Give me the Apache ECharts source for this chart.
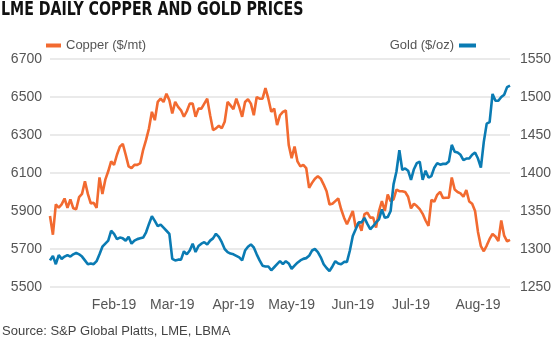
<!DOCTYPE html>
<html>
<head>
<meta charset="utf-8">
<script src="https://cdn.jsdelivr.net/npm/echarts@6/dist/echarts.min.js"></script>
<style>
  html, body { margin: 0; padding: 0; background: #fff; }
  #chart { width: 560px; height: 348px; }
</style>
</head>
<body>
<div id="chart"></div>
<script>
// Trading days (2019), Jan 2 – Aug 16
const dates = [
  '2019-01-02','2019-01-03','2019-01-04','2019-01-07','2019-01-08','2019-01-09','2019-01-10','2019-01-11','2019-01-14','2019-01-15','2019-01-16','2019-01-17','2019-01-18','2019-01-21','2019-01-22','2019-01-23','2019-01-24','2019-01-25','2019-01-28','2019-01-29','2019-01-30','2019-01-31',
  '2019-02-01','2019-02-04','2019-02-05','2019-02-06','2019-02-07','2019-02-08','2019-02-11','2019-02-12','2019-02-13','2019-02-14','2019-02-15','2019-02-18','2019-02-19','2019-02-20','2019-02-21','2019-02-22','2019-02-25','2019-02-26','2019-02-27','2019-02-28',
  '2019-03-01','2019-03-04','2019-03-05','2019-03-06','2019-03-07','2019-03-08','2019-03-11','2019-03-12','2019-03-13','2019-03-14','2019-03-15','2019-03-18','2019-03-19','2019-03-20','2019-03-21','2019-03-22','2019-03-25','2019-03-26','2019-03-27','2019-03-28','2019-03-29',
  '2019-04-01','2019-04-02','2019-04-03','2019-04-04','2019-04-05','2019-04-08','2019-04-09','2019-04-10','2019-04-11','2019-04-12','2019-04-15','2019-04-16','2019-04-17','2019-04-18','2019-04-23','2019-04-24','2019-04-25','2019-04-26','2019-04-29','2019-04-30',
  '2019-05-01','2019-05-02','2019-05-03','2019-05-07','2019-05-08','2019-05-09','2019-05-10','2019-05-13','2019-05-14','2019-05-15','2019-05-16','2019-05-17','2019-05-20','2019-05-21','2019-05-22','2019-05-23','2019-05-24','2019-05-28','2019-05-29','2019-05-30','2019-05-31',
  '2019-06-03','2019-06-04','2019-06-05','2019-06-06','2019-06-07','2019-06-10','2019-06-11','2019-06-12','2019-06-13','2019-06-14','2019-06-17','2019-06-18','2019-06-19','2019-06-20','2019-06-21','2019-06-24','2019-06-25','2019-06-26','2019-06-27','2019-06-28',
  '2019-07-01','2019-07-02','2019-07-03','2019-07-04','2019-07-05','2019-07-08','2019-07-09','2019-07-10','2019-07-11','2019-07-12','2019-07-15','2019-07-16','2019-07-17','2019-07-18','2019-07-19','2019-07-22','2019-07-23','2019-07-24','2019-07-25','2019-07-26','2019-07-29','2019-07-30','2019-07-31',
  '2019-08-01','2019-08-02','2019-08-05','2019-08-06','2019-08-07','2019-08-08','2019-08-09','2019-08-12','2019-08-13','2019-08-14','2019-08-15','2019-08-16'
];

// LME copper ($/mt)
const copper = [
  5874,5775,5935,5917,5935,5966,5917,5961,5914,5909,5973,5990,6057,5990,5940,5943,5917,6077,5990,6065,6109,6161,
  6143,6196,6239,6253,6196,6135,6126,6143,6143,6152,6222,6274,6335,6422,6378,6474,6491,6474,6517,6483,
  6413,6474,6448,6430,6396,6425,6465,6465,6396,6439,6439,6465,6491,6404,6326,6335,6349,6335,6370,6474,6456,
  6436,6491,6448,6396,6474,6488,6465,6404,6500,6491,6491,6547,6491,6422,6439,6352,6404,6422,6430,6248,
  6178,6239,6161,6135,6143,6126,6022,6048,6070,6083,6070,6039,6004,5935,5938,5952,5966,5909,5865,5830,5865,
  5900,5813,5839,5796,5883,5891,5865,5865,5813,5900,5952,5900,5987,5952,5961,6013,6004,6004,6000,5975,
  5914,5938,5926,5910,5885,5850,5822,5958,5949,5985,6001,5968,5970,5970,6076,6013,6000,5993,5975,6010,5950,5938,5900,
  5790,5715,5688,5718,5753,5779,5766,5742,5850,5770,5740,5748
];

// LBMA gold ($/oz)
const gold = [
  1285,1291,1280,1292,1287,1290,1292,1290,1293,1295,1293,1290,1285,1280,1281,1280,1284,1293,1303,1307,1311,1324,
  1320,1313,1315,1314,1311,1316,1307,1311,1313,1314,1315,1322,1333,1343,1337,1330,1332,1328,1324,1320,
  1287,1285,1286,1286,1297,1293,1298,1307,1296,1304,1307,1309,1306,1311,1314,1320,1316,1309,1300,1296,1294,
  1293,1291,1289,1285,1298,1303,1306,1302,1293,1285,1278,1277,1277,1272,1276,1280,1284,1280,1284,1281,
  1274,1278,1282,1285,1287,1288,1291,1298,1300,1296,1289,1280,1275,1271,1277,1284,1281,1280,1283,1283,1298,
  1317,1326,1335,1335,1341,1333,1326,1330,1335,1339,1352,1341,1342,1350,1385,1402,1430,1404,1406,1403,
  1391,1405,1413,1415,1391,1403,1394,1396,1407,1413,1411,1412,1412,1415,1437,1428,1427,1424,1417,1419,1419,1424,1427,
  1419,1407,1441,1465,1467,1504,1495,1495,1500,1503,1513,1515
];

const copperTicks = { min: 5500, max: 6700, step: 200 };
const goldTicks = { min: 1250, max: 1550, step: 50 };
const monthNames = ['Jan','Feb','Mar','Apr','May','Jun','Jul','Aug','Sep','Oct','Nov','Dec'];

const COPPER = '#F26A30';
const GOLD = '#0A7BB3';
const FONT = "'Liberation Sans', Arial, sans-serif";

function isMonthStart(i) {
  if (i === 0) return false;
  return dates[i].slice(5, 7) !== dates[i - 1].slice(5, 7);
}

const chart = echarts.init(document.getElementById('chart'), null, { renderer: 'canvas' });
chart.setOption({
  animation: false,
  backgroundColor: '#ffffff',
  textStyle: { fontFamily: FONT },
  graphic: [{
    type: 'text', x: 1, y: 1, scaleX: 0.83, scaleY: 1,
    style: { text: 'LME DAILY COPPER AND GOLD PRICES', fill: '#111', fontSize: 19, fontWeight: 'bold',
      fontFamily: "'DejaVu Sans Condensed', 'Liberation Sans', sans-serif" }
  }, {
    type: 'text', left: 2, top: 325,
    style: { text: 'Source: S&P Global Platts, LME, LBMA', fill: '#444', fontSize: 13, fontFamily: FONT }
  }],
  legend: [
    { data: ['Copper ($/mt)'], left: 46, top: 39, padding: 0, icon: 'rect', itemWidth: 15, itemHeight: 4, itemGap: 4,
      textStyle: { color: '#555', fontSize: 13, fontFamily: FONT } },
    { data: ['Gold ($/oz)'], right: 84, top: 39, padding: 0, icon: 'rect', itemWidth: 17, itemHeight: 4, align: 'right',
      textStyle: { color: '#555', fontSize: 13, fontFamily: FONT } }
  ],
  grid: { left: 50, right: 50, top: 59, bottom: 61 },
  xAxis: {
    type: 'category', data: dates, boundaryGap: false,
    axisLine: { show: false }, axisTick: { show: false }, splitLine: { show: false },
    axisLabel: {
      interval: function (i) { return isMonthStart(i); },
      formatter: function (v) { return monthNames[+v.slice(5, 7) - 1] + '-' + v.slice(2, 4); },
      color: '#555', fontSize: 14, margin: 11, fontFamily: FONT
    }
  },
  yAxis: [
    { type: 'value', min: copperTicks.min, max: copperTicks.max, interval: copperTicks.step, position: 'left',
      axisLine: { show: false }, axisTick: { show: false },
      axisLabel: { color: '#555', fontSize: 14, margin: 8, fontFamily: FONT, formatter: function (v) { return String(v); } },
      splitLine: { lineStyle: { color: '#e3e3e3', width: 1.5 } } },
    { type: 'value', min: goldTicks.min, max: goldTicks.max, interval: goldTicks.step, position: 'right',
      axisLine: { show: false }, axisTick: { show: false },
      axisLabel: { color: '#555', fontSize: 14, margin: 10, fontFamily: FONT, formatter: function (v) { return String(v); } },
      splitLine: { show: false } }
  ],
  series: [
    { name: 'Copper ($/mt)', type: 'line', yAxisIndex: 0, data: copper, showSymbol: false, symbol: 'none',
      lineStyle: { color: COPPER, width: 2.6 }, itemStyle: { color: COPPER } },
    { name: 'Gold ($/oz)', type: 'line', yAxisIndex: 1, data: gold, showSymbol: false, symbol: 'none',
      lineStyle: { color: GOLD, width: 2.6 }, itemStyle: { color: GOLD } }
  ]
});
</script>
</body>
</html>
